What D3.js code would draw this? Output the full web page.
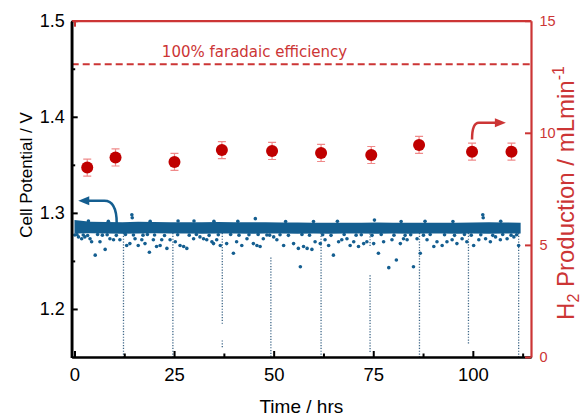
<!DOCTYPE html>
<html>
<head>
<meta charset="utf-8">
<script src="https://cdn.jsdelivr.net/npm/d3@7"></script>
<style>
  body { margin: 0; background: #fff; }
  svg { display: block; }
  text { font-family: "Liberation Sans", Arial, sans-serif; }
</style>
</head>
<body>
<div id="chart"></div>
<script>
(function(){
  'use strict';

  // H2 production, right axis (mL/min)
  var h2Time = [3.2, 10.3, 25.1, 37.0, 49.6, 61.9, 74.5, 86.5, 99.8, 109.7];
  var h2Rate = [8.45, 8.9, 8.7, 9.23, 9.19, 9.1, 9.01, 9.46, 9.16, 9.16];
  var h2Err = [0.38, 0.38, 0.38, 0.38, 0.38, 0.38, 0.38, 0.38, 0.38, 0.38];
  var faradaic100 = 13.06;

  // cell potential, main band (V)
  var bandTime = [0,4,8,12,16,20,24,28,32,36,40,44,48,52,56,60,64,68,72,76,80,84,88,92,96,100,104,108,112];
  var bandTop = [1.2925,1.2908,1.2905,1.2903,1.2908,1.2905,1.2903,1.2902,1.2903,1.2905,1.2902,1.2903,1.2902,1.29,1.29,1.2897,1.2898,1.2897,1.2898,1.29,1.2897,1.2898,1.2897,1.2898,1.2897,1.29,1.2903,1.29,1.2897];
  var bandBottom = [1.2785,1.2787,1.2785,1.2783,1.2785,1.2787,1.2785,1.2785,1.2783,1.2785,1.2785,1.2783,1.2785,1.2785,1.2783,1.2785,1.2783,1.2785,1.2785,1.2783,1.2785,1.2783,1.2785,1.2785,1.2783,1.2785,1.2783,1.2785,1.2785];

  // scattered readings below/above the band [time, V]
  var scatterPts = [
    [0.1,1.277],[1.0,1.275],[1.8,1.273],[2.6,1.275],[3.9,1.273],[4.3,1.270],[5.2,1.256],[6.4,1.270],
    [7.7,1.262],[8.9,1.273],[9.8,1.272],[11.4,1.272],[13.1,1.266],[13.9,1.268],[15.2,1.273],[16.0,1.266],
    [16.9,1.272],[17.7,1.268],[18.8,1.259],[19.8,1.272],[20.6,1.265],[21.5,1.266],[21.9,1.272],[23.2,1.263],
    [24.0,1.272],[25.3,1.270],[26.5,1.266],[27.4,1.265],[28.2,1.263],[29.9,1.273],[31.5,1.275],[32.4,1.273],
    [33.2,1.272],[34.5,1.270],[34.9,1.268],[35.7,1.272],[36.6,1.266],[38.2,1.268],[39.9,1.258],[40.7,1.270],
    [42.0,1.266],[43.3,1.273],[44.9,1.268],[45.8,1.266],[46.6,1.265],[47.4,1.273],[48.3,1.277],[50.0,1.275],
    [50.8,1.272],[52.5,1.266],[55.0,1.268],[56.2,1.263],
    [56.7,1.244],[57.5,1.265],[58.4,1.263],[59.6,1.262],[60.4,1.270],[61.7,1.268],[62.9,1.272],[63.8,1.266],
    [65.0,1.256],[66.3,1.270],[67.1,1.272],[68.4,1.273],[69.2,1.266],[70.1,1.270],[71.3,1.265],[72.6,1.268],
    [73.4,1.270],[75.1,1.268],[76.3,1.258],[77.6,1.270],[78.9,1.243],[79.7,1.272],[80.8,1.251],[81.8,1.268],
    [82.6,1.273],[83.5,1.272],[85.1,1.244],[86.0,1.273],[86.8,1.258],[88.5,1.272],[90.2,1.265],[91.0,1.270],
    [92.3,1.266],[93.5,1.270],[94.8,1.272],[96.0,1.268],[97.3,1.273],[98.5,1.270],[100.2,1.266],[101.5,1.272],
    [103.2,1.273],[104.4,1.270],[105.7,1.275],[106.9,1.272],[108.6,1.273],[110.3,1.275],[111.5,1.266],
    // fuzz just under the band
    [0.6,1.2775],[2.2,1.277],[3.3,1.2765],[5.8,1.2775],[7.0,1.2768],[8.2,1.2772],[10.5,1.2766],[12.8,1.2775],
    [14.8,1.277],[17.2,1.2768],[18.3,1.2775],[20.1,1.277],[22.6,1.2765],[25.9,1.2772],[28.8,1.2768],[30.6,1.2775],
    [33.8,1.2766],[36.1,1.2772],[39.2,1.2775],[41.3,1.2768],[43.8,1.2772],[46.1,1.2776],[49.0,1.2768],[51.6,1.2772],
    [53.7,1.2766],[57.1,1.2775],[59.0,1.2768],[62.3,1.2772],[64.4,1.2766],[67.7,1.2775],[70.7,1.2768],[72.0,1.2772],
    [74.7,1.2766],[77.0,1.2775],[80.2,1.2768],[83.0,1.2766],[84.4,1.2772],[87.6,1.2768],[89.3,1.2775],[92.9,1.2772],
    [95.4,1.2766],[97.9,1.2775],[99.6,1.2768],[102.0,1.2772],[105.0,1.2766],[107.5,1.2775],[109.6,1.2768],[111.0,1.2772],
    // bumps above the band
    [3.5,1.2915],[8.5,1.2912],[14.4,1.298],[14.5,1.295],[19.0,1.2912],[26.0,1.2915],[30.0,1.2915],[35.0,1.2912],
    [41.0,1.2912],[45.4,1.294],[53.0,1.291],[60.0,1.291],[66.0,1.2912],[75.3,1.2925],[82.0,1.291],[88.0,1.2912],
    [95.0,1.291],[102.5,1.298],[102.6,1.295],[107.0,1.2912]
  ];

  // dotted drops when the cell was paused [time, top V, bottom V]
  var drops = [
    [12.3,1.279,1.15],[24.7,1.279,1.15],[37.1,1.279,1.183],[37.1,1.1673,1.1587],
    [49.3,1.2535,1.15],[61.9,1.279,1.15],[74.2,1.2785,1.265],[74.2,1.2351,1.155],
    [86.6,1.279,1.15],[98.9,1.279,1.164],[111.5,1.279,1.15]
  ];

  var timeTicks = [0, 25, 50, 75, 100];
  var timeMinor = [12.5, 37.5, 62.5, 87.5, 112.5];
  var voltTicks = [1.2, 1.3, 1.4, 1.5];
  var voltMinor = [1.25, 1.35, 1.45];
  var h2Ticks = [0, 5, 10, 15];

  var w = 586, h = 417,
      left = 71.7, right = 531, top = 20.7, bottom = 357,
      blue = '#145e90', red = '#cc3535', dark = '#c00000';

  var svg = d3.select('#chart').append('svg')
      .attr('width', w)
      .attr('height', h);

  var x = d3.scaleLinear().domain([-0.7, 114.6]).range([left, right]),
      yV = d3.scaleLinear().domain([1.15, 1.5]).range([bottom, top]),
      yH = d3.scaleLinear().domain([0, 15]).range([bottom, top]);

  // dotted drops
  svg.append('g').selectAll('line')
    .data(drops)
    .enter().append('line')
    .attr('x1', function(d){ return x(d[0]); })
    .attr('x2', function(d){ return x(d[0]); })
    .attr('y1', function(d){ return yV(d[1]); })
    .attr('y2', function(d){ return yV(d[2]); })
    .style('stroke', '#3f6788')
    .style('stroke-width', 1.3)
    .style('stroke-dasharray', '1.2,1.6');

  // band
  var area = d3.area()
    .x(function(d, i){ return x(bandTime[i]); })
    .y0(function(d, i){ return yV(bandBottom[i]); })
    .y1(function(d){ return yV(d); });
  svg.append('path')
    .datum(bandTop)
    .attr('d', area)
    .style('fill', blue);

  svg.append('g').selectAll('circle')
    .data(scatterPts)
    .enter().append('circle')
    .attr('cx', function(d){ return x(d[0]); })
    .attr('cy', function(d){ return yV(d[1]); })
    .attr('r', 1.8)
    .style('fill', blue);

  // 100% faradaic line
  svg.append('line')
    .attr('x1', left).attr('x2', right)
    .attr('y1', yH(faradaic100)).attr('y2', yH(faradaic100))
    .style('stroke', red)
    .style('stroke-width', 2)
    .style('stroke-dasharray', '7,4');
  svg.append('text')
    .attr('x', x(45.2))
    .attr('y', yH(faradaic100) - 7.5)
    .attr('text-anchor', 'middle')
    .style('font-family', '"DejaVu Sans", Verdana, sans-serif')
    .style('font-size', '15px')
    .style('fill', red)
    .text('100% faradaic efficiency');

  // axes
  var xAxis = svg.append('g')
    .attr('transform', 'translate(0,' + bottom + ')')
    .call(d3.axisBottom(x).tickValues(timeTicks).tickSizeInner(-6).tickSizeOuter(0).tickPadding(11));
  svg.append('g')
    .attr('class', 'minor')
    .attr('transform', 'translate(0,' + bottom + ')')
    .call(d3.axisBottom(x).tickValues(timeMinor).tickSizeInner(-3.5).tickSizeOuter(0).tickFormat(''));

  var yAxis = svg.append('g')
    .attr('transform', 'translate(' + left + ',0)')
    .call(d3.axisLeft(yV).tickValues(voltTicks).tickSizeInner(-6).tickSizeOuter(0).tickPadding(7).tickFormat(d3.format('.1f')));
  svg.append('g')
    .attr('class', 'minor')
    .attr('transform', 'translate(' + left + ',0)')
    .call(d3.axisLeft(yV).tickValues(voltMinor).tickSizeInner(-3.5).tickSizeOuter(0).tickFormat(''));

  var topAxis = svg.append('g')
    .attr('transform', 'translate(0,' + top + ')')
    .call(d3.axisTop(x).tickValues([0]).tickSizeInner(-6).tickSizeOuter(0).tickFormat(''));

  var rAxis = svg.append('g')
    .attr('transform', 'translate(' + right + ',0)')
    .call(d3.axisRight(yH).tickValues(h2Ticks).tickSizeInner(-6).tickSizeOuter(0).tickPadding(8.5));

  svg.selectAll('.domain').style('stroke', '#000').style('stroke-width', 2.2);
  svg.selectAll('.tick line').style('stroke', '#000').style('stroke-width', 2);
  xAxis.selectAll('text').style('font-size', '18.5px').style('fill', '#000');
  yAxis.selectAll('text').style('font-size', '18px').style('fill', '#000');
  topAxis.selectAll('.domain, line').style('stroke', red);
  rAxis.selectAll('.domain, line').style('stroke', red);
  rAxis.selectAll('text').style('font-size', '14.5px').style('fill', red);

  // left frame edge drawn on top
  svg.append('line')
    .attr('x1', left).attr('x2', left)
    .attr('y1', yV(1.5) + 1).attr('y2', yV(1.15) + 1)
    .style('stroke', '#000')
    .style('stroke-width', 2.2);

  // axis titles
  svg.append('text')
    .attr('x', (left + right) / 2)
    .attr('y', 413)
    .attr('text-anchor', 'middle')
    .style('font-size', '19px')
    .text('Time / hrs');

  svg.append('text')
    .attr('transform', 'translate(31.5,175) rotate(-90)')
    .attr('text-anchor', 'middle')
    .style('font-size', '17px')
    .text('Cell Potential / V');

  var rt = svg.append('text')
    .attr('transform', 'translate(574,193) rotate(-90)')
    .attr('text-anchor', 'middle')
    .style('font-size', '24px')
    .style('fill', red);
  rt.append('tspan').text('H');
  rt.append('tspan').attr('dy', 5).style('font-size', '16px').text('2');
  rt.append('tspan').attr('dy', -5).text(' Production / mLmin');
  rt.append('tspan').attr('dy', -10).style('font-size', '16px').text('-1');

  // H2 error bars + points
  var pts = svg.append('g').selectAll('g')
    .data(h2Rate)
    .enter().append('g')
    .attr('transform', function(d, i){ return 'translate(' + x(h2Time[i]) + ',0)'; });
  pts.append('path')
    .attr('d', function(d, i){
      var a = yH(d + h2Err[i]), b = yH(d - h2Err[i]);
      return 'M-4,' + a + 'H4M0,' + a + 'V' + b + 'M-4,' + b + 'H4';
    })
    .style('fill', 'none')
    .style('stroke', '#f08a8a')
    .style('stroke-width', 1.2);
  pts.append('circle')
    .attr('cy', function(d){ return yH(d); })
    .attr('r', 6)
    .style('fill', dark);

  // arrows pointing to their axes
  var b0 = [x(10.6), yV(1.289)], b1 = [x(10.6), yV(1.3125)], b2 = [x(7.5), yV(1.3125)], btip = [x(0.95), yV(1.3125)];
  svg.append('path')
    .attr('d', 'M' + b0 + 'Q' + b1 + ' ' + b2 + 'L' + [btip[0] + 10, btip[1]])
    .style('fill', 'none')
    .style('stroke', blue)
    .style('stroke-width', 2.5);
  svg.append('path')
    .attr('d', 'M' + btip + 'l11,-4.5v9z')
    .style('fill', blue);

  var r0 = [x(99.8), yH(9.7)], r1 = [x(99.8), yH(10.45)], r2 = [x(101.5), yH(10.45)], rtip = [x(108.3), yH(10.45)];
  svg.append('path')
    .attr('d', 'M' + r0 + 'Q' + r1 + ' ' + r2 + 'L' + [rtip[0] - 10, rtip[1]])
    .style('fill', 'none')
    .style('stroke', red)
    .style('stroke-width', 2.5);
  svg.append('path')
    .attr('d', 'M' + rtip + 'l-11,-4.5v9z')
    .style('fill', red);
}());
</script>
</body>
</html>
